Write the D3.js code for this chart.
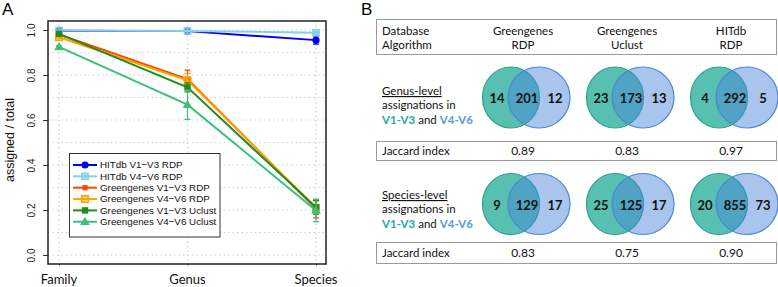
<!DOCTYPE html>
<html>
<head>
<meta charset="utf-8">
<script src="https://cdn.jsdelivr.net/npm/d3@7"></script>
<style>
  body { margin: 0; background: #fff; }
  svg { display: block; }
</style>
</head>
<body>
<svg id="fig" width="778" height="287"></svg>
<script>
// ---- Panel A data ----
const levels = ["Family", "Genus", "Species"];
const seriesNames = [
    "HITdb V1\u2212V3 RDP",
    "HITdb V4\u2212V6 RDP",
    "Greengenes V1\u2212V3 RDP",
    "Greengenes V4\u2212V6 RDP",
    "Greengenes V1\u2212V3 Uclust",
    "Greengenes V4\u2212V6 Uclust"
];
const seriesValues = [
    [0.997, 0.995, 0.955],
    [0.998, 0.996, 0.988],
    [0.980, 0.782, 0.205],
    [0.968, 0.776, 0.210],
    [0.983, 0.745, 0.212],
    [0.925, 0.668, 0.198]
];
const seriesErrors = [
    [0.002, 0.003, 0.018],
    [0.002, 0.003, 0.005],
    [0.005, 0.040, 0.040],
    [0.005, 0.030, 0.030],
    [0.005, 0.020, 0.030],
    [0.005, 0.065, 0.050]
];
const yTicks = [0, 0.2, 0.4, 0.6, 0.8, 1.0];

// ---- Panel B data ----
const columnDatabase = ["Greengenes", "Greengenes", "HITdb"];
const columnAlgorithm = ["RDP", "Uclust", "RDP"];
const genusCounts = [[14, 201, 12], [23, 173, 13], [4, 292, 5]];
const genusJaccard = ["0.89", "0.83", "0.97"];
const speciesCounts = [[9, 129, 17], [25, 125, 17], [20, 855, 73]];
const speciesJaccard = ["0.83", "0.75", "0.90"];

// styles
const seriesColors = ["#0000ff", "#87ceeb", "#ff4500", "#ffa500", "#228b22", "#3cc07a"];
const seriesMarkers = ["circle", "squareCross", "squareFilled", "squareOpen", "squareX", "triangle"];

const svg = d3.select("#fig");

// ================= Panel A =================
const box = { left: 48, right: 326, top: 21, bottom: 264 };
const x = d3.scalePoint().domain(levels).range([59, 316]);
const y = d3.scaleLinear().domain([0, 1]).range([255, 30]);

svg.append("text").attr("x", 2).attr("y", 15)
    .attr("font-family", "Liberation Sans, Arial").attr("font-size", 17).text("A");

const A = svg.append("g").attr("font-family", "Liberation Sans, Arial");

// grid
A.append("g").selectAll("line")
    .data(d3.range(0, 11).map(i => i / 10))
    .enter().append("line")
    .attr("x1", box.left).attr("x2", box.right)
    .attr("y1", d => y(d)).attr("y2", d => y(d))
    .attr("stroke", "#d0d0d8").attr("stroke-width", 1.2).attr("stroke-dasharray", "1.5,3");
A.append("g").selectAll("line")
    .data(levels)
    .enter().append("line")
    .attr("x1", d => x(d)).attr("x2", d => x(d))
    .attr("y1", box.top).attr("y2", box.bottom)
    .attr("stroke", "#d0d0d8").attr("stroke-width", 1.2).attr("stroke-dasharray", "1.5,3");

// y axis
const yAxis = A.append("g").attr("transform", `translate(${box.left},0)`)
    .call(d3.axisLeft(y).tickValues(yTicks).tickFormat(d3.format(".1f")).tickSize(5).tickPadding(0));
yAxis.select(".domain").remove();
yAxis.selectAll("line").attr("stroke", "#333");
yAxis.selectAll("text")
    .attr("font-size", 10).attr("fill", "#222")
    .attr("text-anchor", "middle")
    .attr("transform", "translate(-17,0) rotate(-90)")
    .attr("x", 0).attr("y", 0).attr("dy", "0.35em");

// x axis ticks
const xAxis = A.append("g").attr("transform", `translate(0,${box.bottom})`)
    .call(d3.axisBottom(x).tickSize(2).tickFormat(""));
xAxis.select(".domain").remove();
xAxis.selectAll("line").attr("stroke", "#999");

A.append("g").selectAll("text")
    .data(levels).enter().append("text")
    .attr("x", d => x(d)).attr("y", 284)
    .attr("text-anchor", "middle")
    .attr("font-family", "Lato, sans-serif").attr("font-size", 13)
    .attr("fill", "#111")
    .text(d => d);

A.append("text")
    .attr("transform", "translate(14,140) rotate(-90)")
    .attr("text-anchor", "middle").attr("font-size", 12.5).attr("fill", "#111")
    .text("assigned / total");

function drawMarker(g, type, color, cx, cy) {
    const s = 3.2;
    if (type === "circle") {
        g.append("circle").attr("cx", cx).attr("cy", cy).attr("r", 3.6).attr("fill", color);
    } else if (type === "squareCross") {
        g.append("rect").attr("x", cx - s).attr("y", cy - s).attr("width", 2 * s).attr("height", 2 * s)
            .attr("fill", color).attr("fill-opacity", 0.6).attr("stroke", color).attr("stroke-width", 1.3);
        g.append("path").attr("d", `M${cx - s},${cy}H${cx + s}M${cx},${cy - s}V${cy + s}`)
            .attr("stroke", color).attr("stroke-width", 1);
    } else if (type === "squareFilled") {
        g.append("rect").attr("x", cx - 2.6).attr("y", cy - 2.6).attr("width", 5.2).attr("height", 5.2)
            .attr("fill", color);
    } else if (type === "squareOpen") {
        g.append("rect").attr("x", cx - s).attr("y", cy - s).attr("width", 2 * s).attr("height", 2 * s)
            .attr("fill", color).attr("fill-opacity", 0.45).attr("stroke", color).attr("stroke-width", 1.6);
    } else if (type === "squareX") {
        g.append("rect").attr("x", cx - s).attr("y", cy - s).attr("width", 2 * s).attr("height", 2 * s)
            .attr("fill", color);
    } else if (type === "triangle") {
        g.append("path").attr("d", d3.symbol(d3.symbolTriangle, 40)())
            .attr("transform", `translate(${cx},${cy + 0.5})`).attr("fill", color);
    }
}

const line = d3.line().x((d, i) => x(levels[i])).y(d => y(d));

seriesNames.forEach((name, si) => {
    const g = A.append("g");
    const color = seriesColors[si];
    g.append("path")
        .attr("d", line(seriesValues[si]))
        .attr("fill", "none").attr("stroke", color).attr("stroke-width", 2);
    seriesValues[si].forEach((v, i) => {
        const e = seriesErrors[si][i];
        const cx = x(levels[i]);
        g.append("path")
            .attr("d", `M${cx},${y(v - e)}V${y(v + e)}M${cx - 3},${y(v - e)}H${cx + 3}M${cx - 3},${y(v + e)}H${cx + 3}`)
            .attr("stroke", color).attr("stroke-width", 1.2).attr("fill", "none");
        drawMarker(g, seriesMarkers[si], color, cx, y(v));
    });
});

// box
A.append("rect").attr("x", box.left).attr("y", box.top)
    .attr("width", box.right - box.left).attr("height", box.bottom - box.top)
    .attr("fill", "none").attr("stroke", "#222").attr("stroke-width", 1.5);

// legend
const leg = A.append("g");
leg.append("rect").attr("x", 69.5).attr("y", 153.5).attr("width", 150.5).attr("height", 83.5)
    .attr("fill", "#fff").attr("stroke", "#333").attr("stroke-width", 1);
seriesNames.forEach((name, si) => {
    const ly = 165 + si * 11.35;
    const color = seriesColors[si];
    leg.append("line").attr("x1", 73).attr("x2", 97).attr("y1", ly).attr("y2", ly)
        .attr("stroke", color).attr("stroke-width", 2);
    drawMarker(leg, seriesMarkers[si], color, 85, ly);
    leg.append("text").attr("x", 100).attr("y", ly).attr("dy", "0.35em")
        .attr("font-size", 9.8).attr("fill", "#111").text(name);
});

// ================= Panel B =================
const B = svg.append("g").attr("font-family", "Lato, 'Open Sans', sans-serif").attr("fill", "#111");
svg.append("text").attr("x", 361).attr("y", 15)
    .attr("font-family", "Liberation Sans, Arial").attr("font-size", 17).text("B");

const col = d3.scalePoint().domain([0, 1, 2]).range([523, 731]);
const tableLeft = 376.5, tableRight = 776.5;
const fs = 11.5;

function tableBox(y0, y1) {
    B.append("rect").attr("x", tableLeft).attr("y", y0)
        .attr("width", tableRight - tableLeft).attr("height", y1 - y0)
        .attr("fill", "none").attr("stroke", "#9a9a9a").attr("stroke-width", 1);
}

// header
tableBox(19.5, 54.5);
B.append("text").attr("x", 382).attr("y", 31).attr("dy", "0.35em").attr("font-size", fs).text("Database");
B.append("text").attr("x", 382).attr("y", 44.5).attr("dy", "0.35em").attr("font-size", fs).text("Algorithm");
columnDatabase.forEach((d, i) => {
    B.append("text").attr("x", col(i)).attr("y", 31).attr("dy", "0.35em")
        .attr("text-anchor", "middle").attr("font-size", fs).text(d);
    B.append("text").attr("x", col(i)).attr("y", 44.5).attr("dy", "0.35em")
        .attr("text-anchor", "middle").attr("font-size", fs).text(columnAlgorithm[i]);
});

function rowLabel(title, yTop) {
    B.append("text").attr("x", 382).attr("y", yTop).attr("dy", "0.35em")
        .attr("font-size", fs).attr("text-decoration", "underline").text(title);
    B.append("text").attr("x", 382).attr("y", yTop + 14).attr("dy", "0.35em")
        .attr("font-size", fs).text("assignations in");
    const t = B.append("text").attr("x", 382).attr("y", yTop + 28.5).attr("dy", "0.35em")
        .attr("font-size", fs).attr("font-weight", "bold");
    t.append("tspan").attr("fill", "#1fa99a").text("V1-V3");
    t.append("tspan").attr("fill", "#111").attr("font-weight", "normal").text(" and ");
    t.append("tspan").attr("fill", "#5b95e0").text("V4-V6");
}

function venn(counts, cy) {
    counts.forEach((c, i) => {
        const cx = col(i) + 1;
        B.append("ellipse").attr("cx", cx - 13).attr("cy", cy).attr("rx", 28.5).attr("ry", 30.5)
            .attr("fill", "#58c0b0").attr("stroke", "#2aa391").attr("stroke-width", 1.2);
        B.append("ellipse").attr("cx", cx + 15).attr("cy", cy).attr("rx", 31).attr("ry", 30.5)
            .attr("fill", "#4882d8").attr("fill-opacity", 0.47)
            .attr("stroke", "#4a86d8").attr("stroke-width", 1.2);
        [-27, 3, 31].forEach((dx, k) => {
            B.append("text").attr("x", cx + dx).attr("y", cy + 1).attr("dy", "0.35em")
                .attr("text-anchor", "middle").attr("font-size", 13).attr("font-weight", "bold")
                .attr("fill", "#111").text(c[k]);
        });
    });
}

function jaccardRow(vals, y0, y1) {
    tableBox(y0, y1);
    const ym = (y0 + y1) / 2;
    B.append("text").attr("x", 382).attr("y", ym).attr("dy", "0.35em").attr("font-size", fs).text("Jaccard index");
    vals.forEach((v, i) => {
        B.append("text").attr("x", col(i)).attr("y", ym).attr("dy", "0.35em")
            .attr("text-anchor", "middle").attr("font-size", 12).text(v);
    });
}

rowLabel("Genus-level", 91);
venn(genusCounts, 97.5);
jaccardRow(genusJaccard, 141.5, 160.5);

rowLabel("Species-level", 195);
venn(speciesCounts, 204);
jaccardRow(speciesJaccard, 242.5, 263.5);
</script>
</body>
</html>
